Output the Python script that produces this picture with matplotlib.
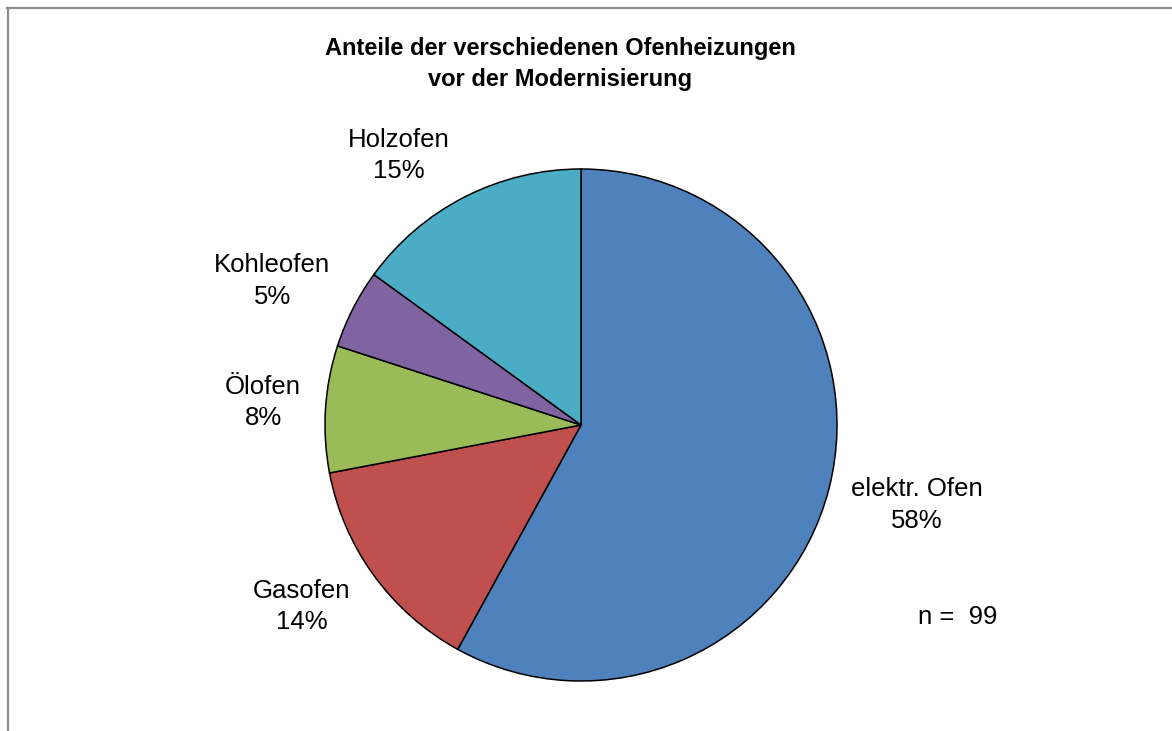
import matplotlib
matplotlib.use("Agg")
import matplotlib.pyplot as plt
from matplotlib.lines import Line2D
import numpy as np

plt.rcParams['font.family'] = ['Liberation Sans', 'DejaVu Sans']

# data
categories = ['elektr. Ofen', 'Gasofen', 'Ölofen', 'Kohleofen', 'Holzofen']
shares = [58, 14, 8, 5, 15]
colors = ['#4F81BD', '#C0504D', '#9BBB59', '#8064A2', '#4BACC6']
n_total = 99

# label placement (distance in radii, angle nudge in degrees)
lbl_dist = [1.35, 1.30, 1.245, 1.33, 1.27]
lbl_nudge = [1, -3, -0.5, 2, 7]

W, H = 1172, 731
fig = plt.figure(figsize=(W / 100, H / 100), dpi=100)
ax = fig.add_axes([0, 0, 1, 1])

cx, cy, r = 581, H - 425, 256
wedges, _ = ax.pie(shares, colors=colors, startangle=90, counterclock=False,
                   center=(cx, cy), radius=r,
                   wedgeprops=dict(edgecolor='black', linewidth=1.1))
ax.set_xlim(0, W)
ax.set_ylim(0, H)
ax.set_aspect('equal')
ax.axis('off')

for w, name, val, d, nd in zip(wedges, categories, shares, lbl_dist, lbl_nudge):
    ang = np.deg2rad((w.theta1 + w.theta2) / 2 + nd)
    ax.text(cx + r * d * np.cos(ang), cy + r * d * np.sin(ang),
            f"{name}\n{val}%", ha='center', va='center', fontsize=18.5,
            linespacing=1.38, color='black')

ax.text(958, H - 617, f"n =  {n_total}", ha='center', va='center', fontsize=18.5)

fig.text(560 / W, 1 - 64 / H, "Anteile der verschiedenen Ofenheizungen\nvor der Modernisierung",
         ha='center', va='center', fontsize=17, fontweight='bold', linespacing=1.42)

# chart frame (only left and top edges visible)
fig.add_artist(Line2D([8 / W, 8 / W], [0, 1 - 8 / H], color='#8c8c8c', linewidth=1.6,
                      transform=fig.transFigure))
fig.add_artist(Line2D([7 / W, 1], [1 - 8 / H, 1 - 8 / H], color='#8c8c8c', linewidth=1.6,
                      transform=fig.transFigure))

fig.savefig('out.png', dpi=100, facecolor='white')
